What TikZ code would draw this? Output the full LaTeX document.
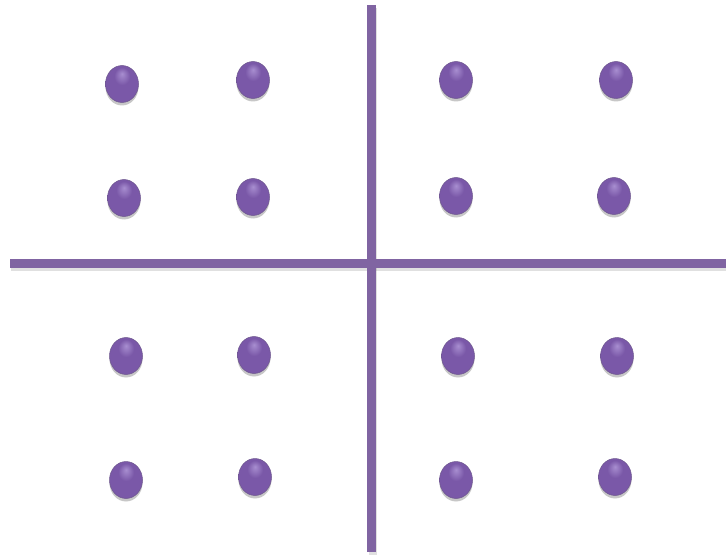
\documentclass[tikz,border=0pt]{standalone}
\usetikzlibrary{shadows, shapes.geometric}
\definecolor{cline}{HTML}{8064A2}
\definecolor{cdot}{HTML}{7A58A8}
\definecolor{cdotdark}{HTML}{4A2D72}
\definecolor{cdotlight}{HTML}{A88ED0}
\pgfdeclareradialshading{dotshade}{\pgfpoint{0bp}{14bp}}{%
  color(0bp)=(cdotlight); color(12bp)=(cdot); color(29bp)=(cdot);
  color(37bp)=(cdotdark); color(50bp)=(cdotdark)}
\tikzset{
  every picture/.style={x=1pt, y=-1pt},
  dot/.style={ellipse, minimum width=33pt, minimum height=37pt, inner sep=0pt,
    shading=dotshade, draw=cdotdark!80, line width=0.5pt,
    drop shadow={shadow xshift=0pt, shadow yshift=-3pt, opacity=0.22, fill=black}},
  axis/.style={draw=cline, line width=9pt},
  axisshadow/.style={draw=black, opacity=0.12, line width=8pt},
}
\begin{document}
\begin{tikzpicture}
  \useasboundingbox (0,0) rectangle (726,559);
  % quadrant dividers
  \coordinate (vtop) at (371,5);
  \coordinate (vbot) at (371,552);
  \coordinate (hleft) at (10,263);
  \coordinate (hright) at (726,263);
  \draw[axisshadow] ([xshift=1pt,yshift=-4pt]hleft) -- ([yshift=-4pt]hright);
  \draw[axisshadow] ([xshift=2pt,yshift=-3pt]vtop) -- ([xshift=2pt,yshift=-3pt]vbot);
  \draw[axis] (hleft) -- (hright);
  \draw[axis] (vtop) -- (vbot);
  % dots, four per quadrant
  \foreach \name/\x/\y in {a1/122/84, a2/253/80, b1/456/80, b2/616/80,
                           a3/124/198, a4/253/197, b3/456/196, b4/614/196,
                           c1/126/356, c2/254/355, d1/458/356, d2/617/356,
                           c3/126/480, c4/255/477, d3/456/480, d4/615/477}
    \node[dot] (\name) at (\x,\y) {};
\end{tikzpicture}
\end{document}
